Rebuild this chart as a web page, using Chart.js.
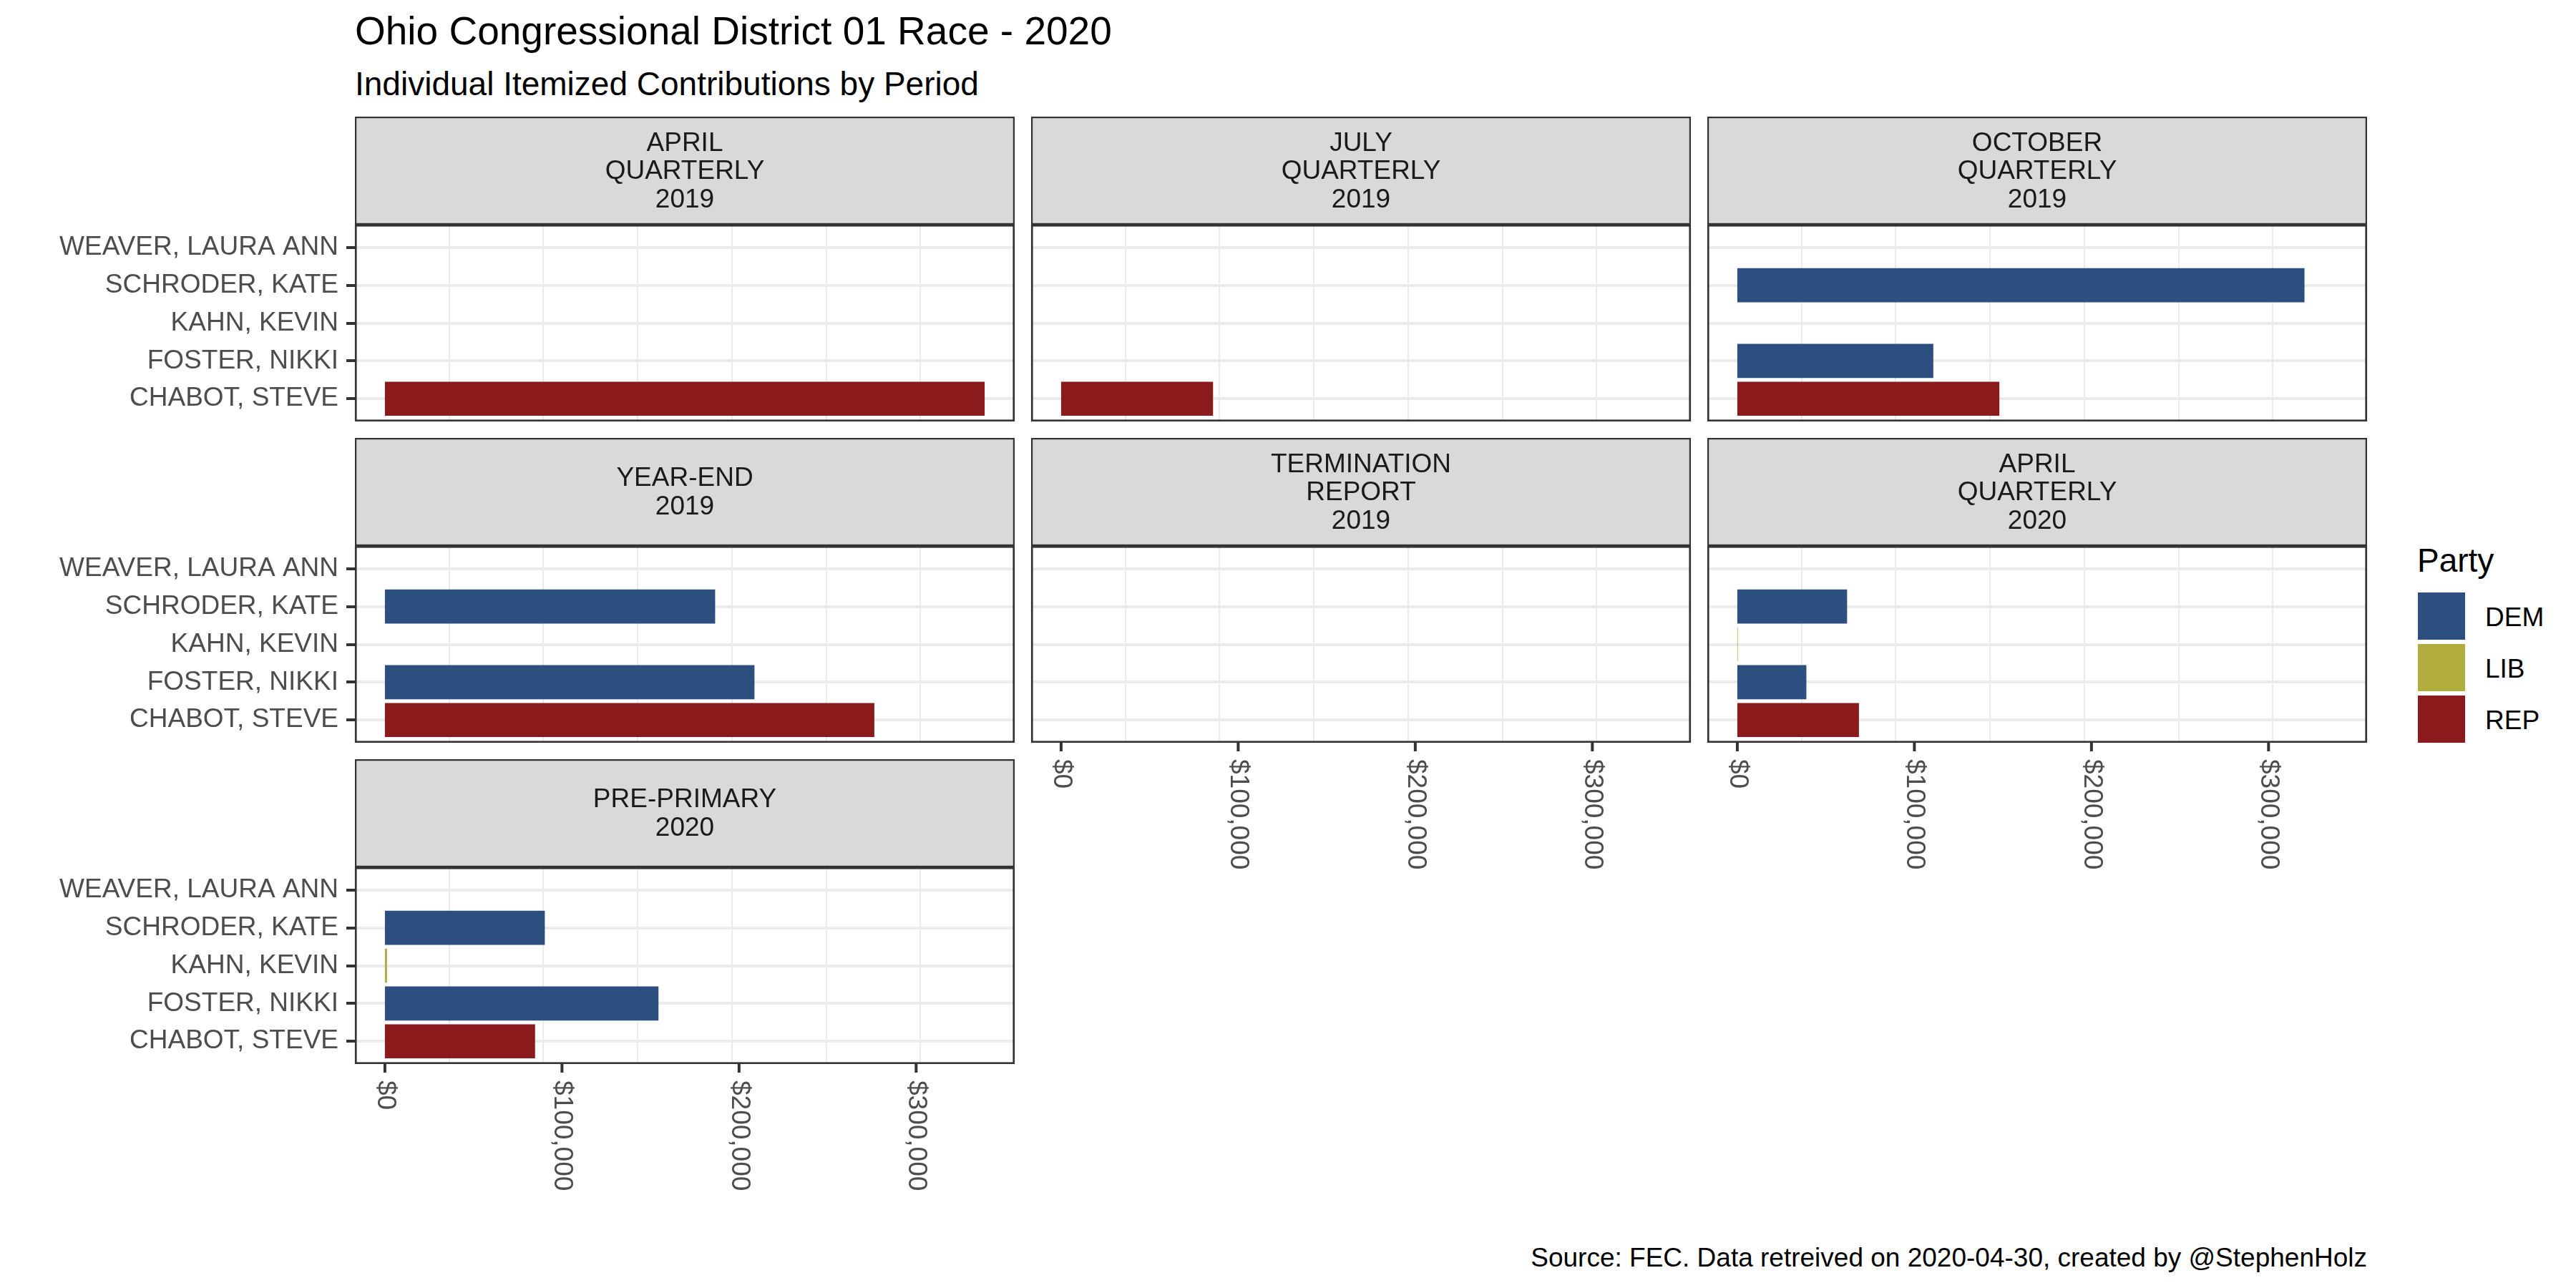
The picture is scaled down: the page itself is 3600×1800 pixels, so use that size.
<!DOCTYPE html>
<html>
<head>
<meta charset="utf-8">
<script src="https://cdn.jsdelivr.net/npm/chart.js@4.4.0/dist/chart.umd.min.js"></script>
<style>
    body { margin: 0; background: #fff; width: 3600px; height: 1800px; position: relative; overflow: hidden;
           font-family: 'Liberation Sans', Arial, sans-serif; }
    .txt { position: absolute; white-space: nowrap; line-height: 1; color: #000; }
    .key { position: absolute; width: 66px; height: 66px; }
    canvas { position: absolute; }
</style>
</head>
<body>
<div class="txt" style="left:496px;top:16px;font-size:55px">Ohio Congressional District 01 Race - 2020</div>
<div class="txt" style="left:496px;top:94px;font-size:46px">Individual Itemized Contributions by Period</div>
<div class="txt" style="right:292px;top:1739px;font-size:37px">Source: FEC. Data retreived on 2020-04-30, created by @StephenHolz</div>
<div class="txt" style="left:3378px;top:760px;font-size:46px">Party</div>
<div id="legend"></div>

<script>
'use strict';

// candidates, bottom to top
const candidates = ['CHABOT, STEVE', 'FOSTER, NIKKI', 'KAHN, KEVIN', 'SCHRODER, KATE', 'WEAVER, LAURA ANN'];
const candidateParty = ['REP', 'DEM', 'LIB', 'DEM', null];

const periods = [
    'APRIL\nQUARTERLY\n2019', 'JULY\nQUARTERLY\n2019', 'OCTOBER\nQUARTERLY\n2019',
    'YEAR-END\n2019', 'TERMINATION\nREPORT\n2019', 'APRIL\nQUARTERLY\n2020',
    'PRE-PRIMARY\n2020'
];

// contributions per candidate (same order as candidates), null = no filing
const aprilQ2019 = [338700, null, null, null, null];
const julyQ2019 = [85800, null, null, null, null];
const octoberQ2019 = [148000, 110700, null, 320300, null];
const yearEnd2019 = [276400, 208700, null, 186500, null];
const termination2019 = [null, null, null, null, null];
const aprilQ2020 = [68700, 39000, 300, 62000, null];
const prePrimary2020 = [84800, 154500, 1200, 90300, null];
const periodValues = [aprilQ2019, julyQ2019, octoberQ2019, yearEnd2019, termination2019, aprilQ2020, prePrimary2020];

const parties = ['DEM', 'LIB', 'REP'];
const partyColors = ['#2C4F80', '#B1AC3E', '#8B1A1D'];

const xTickValues = [0, 100000, 200000, 300000];
const xTickLabels = ['$0', '$100,000', '$200,000', '$300,000'];

// layout
const colLeft = [496, 1441, 2386];
const rowTop = [163, 612, 1061];
const panelW = 922, stripH = 151, plotH = 275;
const fontFamily = "'Liberation Sans', Arial, sans-serif";

Chart.defaults.font.family = fontFamily;

// shared x range, expanded like ggplot (5% each side)
const allValues = periodValues.flat().filter(v => v !== null);
const dataMax = Math.max(...allValues);
const xMin = -0.05 * dataMax;
const xMax = 1.05 * dataMax;

let colorOf = (party) => partyColors[parties.indexOf(party)];

const facetPlugin = {
    id: 'facet',
    afterDraw(chart) {
        const f = chart.options.plugins.facet;
        const ctx = chart.ctx;
        const a = chart.chartArea;
        ctx.save();
        // strip
        ctx.fillStyle = '#D9D9D9';
        ctx.fillRect(a.left, a.top - stripH, a.right - a.left, stripH);
        ctx.strokeStyle = '#333333';
        ctx.lineWidth = 2.2;
        ctx.strokeRect(a.left + 1.1, a.top - stripH + 1.1, a.right - a.left - 2.2, stripH - 2.2);
        const lines = f.label.split('\n');
        ctx.fillStyle = '#1A1A1A';
        ctx.font = '37px ' + fontFamily;
        ctx.textAlign = 'center';
        ctx.textBaseline = 'middle';
        const cx = (a.left + a.right) / 2;
        const cy = a.top - stripH / 2 + 1.5;
        lines.forEach((t, k) => ctx.fillText(t, cx, cy + (k - (lines.length - 1) / 2) * 39.5));
        // panel border
        ctx.lineWidth = 2.6;
        ctx.strokeRect(a.left + 1.3, a.top + 1.3, a.right - a.left - 2.6, a.bottom - a.top - 2.6);
        // x axis, rotated labels reading downwards
        if (f.showX) {
            const xs = chart.scales.x;
            ctx.font = '37px ' + fontFamily;
            ctx.textAlign = 'left';
            ctx.textBaseline = 'middle';
            xTickValues.forEach((v, k) => {
                const px = xs.getPixelForValue(v);
                ctx.fillStyle = '#333333';
                ctx.fillRect(px - 2, a.bottom, 4, 12);
                ctx.save();
                ctx.translate(px, a.bottom + 23);
                ctx.rotate(Math.PI / 2);
                ctx.fillStyle = '#4D4D4D';
                ctx.fillText(xTickLabels[k], 0, 0);
                ctx.restore();
            });
        }
        ctx.restore();
    }
};

periods.forEach((label, i) => {
    const row = Math.floor(i / 3);
    const col = i % 3;
    const showY = col === 0;
    const showX = i + 3 >= periods.length;
    const leftSpace = showY ? colLeft[0] : 6;
    const bottomSpace = showX ? 230 : 40;

    const canvas = document.createElement('canvas');
    canvas.width = leftSpace + panelW + 6;
    canvas.height = stripH + plotH + bottomSpace;
    canvas.style.left = (colLeft[col] - leftSpace) + 'px';
    canvas.style.top = rowTop[row] + 'px';
    document.body.appendChild(canvas);

    const values = periodValues[i];
    const points = [];
    const colors = [];
    values.forEach((v, k) => {
        if (v === null) return;
        points.push({x: v, y: k});
        colors.push(colorOf(candidateParty[k]));
    });

    new Chart(canvas, {
        type: 'bar',
        data: {
            datasets: [{
                data: points,
                backgroundColor: colors,
                borderWidth: 0,
                categoryPercentage: 0.9,
                barPercentage: 1
            }]
        },
        options: {
            indexAxis: 'y',
            responsive: false,
            animation: false,
            events: [],
            layout: {
                autoPadding: false,
                padding: {top: stripH, right: 6, left: 0, bottom: 0}
            },
            scales: {
                x: {
                    type: 'linear',
                    min: xMin,
                    max: xMax,
                    offset: false,
                    ticks: {display: false, stepSize: 50000, includeBounds: false},
                    grid: {
                        color: '#EBEBEB',
                        lineWidth: (c) => xTickValues.includes(c.tick.value) ? 4 : 2,
                        drawTicks: false,
                        offset: false
                    },
                    border: {display: false},
                    afterFit: (s) => { s.height = bottomSpace; }
                },
                y: {
                    type: 'linear',
                    min: -0.6,
                    max: candidates.length - 0.4,
                    offset: false,
                    ticks: {
                        display: showY,
                        stepSize: 1,
                        includeBounds: false,
                        callback: (v) => candidates[v],
                        color: '#4D4D4D',
                        font: {size: 37},
                        padding: 11
                    },
                    grid: {
                        color: '#EBEBEB',
                        lineWidth: 4,
                        offset: false,
                        drawTicks: showY,
                        tickLength: 12,
                        tickColor: '#333333',
                        tickWidth: 4
                    },
                    border: {display: false},
                    afterFit: (s) => { s.width = leftSpace; }
                }
            },
            plugins: {
                legend: {display: false},
                tooltip: {enabled: false},
                facet: {label: label, showX: showX}
            }
        },
        plugins: [facetPlugin]
    });
});

// legend keys
const legend = document.getElementById('legend');
parties.forEach((p, k) => {
    const box = document.createElement('div');
    box.className = 'key';
    box.style.left = '3379px';
    box.style.top = (828 + 72 * k) + 'px';
    box.style.background = partyColors[k];
    legend.appendChild(box);
    const txt = document.createElement('div');
    txt.className = 'txt';
    txt.style.left = '3473px';
    txt.style.top = (844 + 72 * k) + 'px';
    txt.style.fontSize = '37px';
    txt.textContent = p;
    legend.appendChild(txt);
});
</script>
</body>
</html>
